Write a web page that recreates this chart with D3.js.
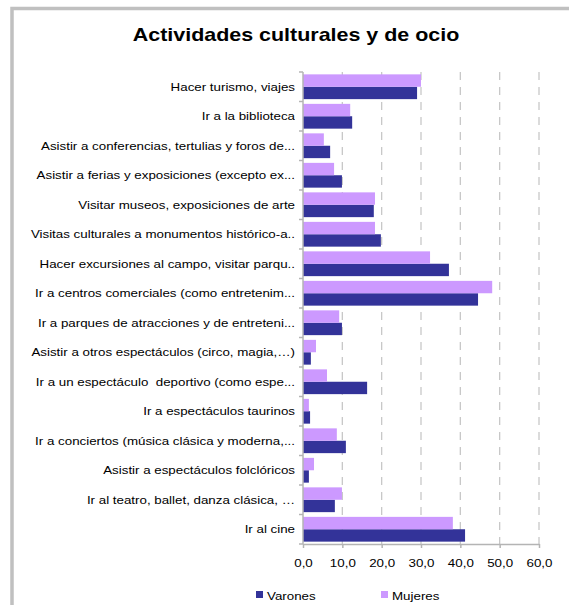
<!DOCTYPE html>
<html>
<head>
<meta charset="utf-8">
<script src="https://cdn.jsdelivr.net/npm/d3@7"></script>
<style>
  body { margin: 0; background: #fff; }
  text { font-family: "Liberation Sans", Arial, sans-serif; fill: #000; white-space: pre; }
</style>
</head>
<body>
<div id="chart"></div>
<script>
const categories = [
    "Hacer turismo, viajes",
    "Ir a la biblioteca",
    "Asistir a conferencias, tertulias y foros de...",
    "Asistir a ferias y exposiciones (excepto ex...",
    "Visitar museos, exposiciones de arte",
    "Visitas culturales a monumentos histórico-a..",
    "Hacer excursiones al campo, visitar parqu..",
    "Ir a centros comerciales (como entretenim...",
    "Ir a parques de atracciones y de entreteni...",
    "Asistir a otros espectáculos (circo, magia,…)",
    "Ir a un espectáculo  deportivo (como espe...",
    "Ir a espectáculos taurinos",
    "Ir a conciertos (música clásica y moderna,...",
    "Asistir a espectáculos folclóricos",
    "Ir al teatro, ballet, danza clásica, …",
    "Ir al cine"
];
const varones = [29.0, 12.5, 6.9, 9.9, 18.0, 19.8, 37.1, 44.5, 9.9, 2.0, 16.3, 1.8, 10.9, 1.5, 8.1, 41.2];
const mujeres = [30.0, 12.0, 5.3, 7.9, 18.3, 18.3, 32.3, 48.1, 9.2, 3.3, 6.1, 1.5, 8.6, 2.8, 9.9, 38.1];
const seriesNames = ["Varones", "Mujeres"];
const xTicks = [0, 10, 20, 30, 40, 50, 60];

const width = 569, height = 605;
const colors = { Varones: "#333399", Mujeres: "#cc99ff" };
const stretch = 1.16; // source text is rendered a bit wide

const svg = d3.select("#chart").append("svg")
    .attr("width", width)
    .attr("height", height);

function wideText(sel, x, y) {
    return sel.attr("transform", "translate(" + x + "," + y + ") scale(" + stretch + ",1)");
}

// frame (top and left edges only visible)
svg.append("path")
    .attr("d", "M12,605 V8.5 H569")
    .attr("fill", "none")
    .attr("stroke", "#c0c0c0")
    .attr("stroke-width", 3.5);

svg.append("text")
    .call(wideText, 296, 41)
    .attr("text-anchor", "middle")
    .style("font-size", "18.5px")
    .style("font-weight", "bold")
    .text("Actividades culturales y de ocio");

var x = d3.scaleLinear().domain([0, 60]).range([303, 539]);
var y = d3.scaleBand().domain(categories).range([72, 544]);
var bw = y.bandwidth();
var sub = d3.scaleBand().domain(["Mujeres", "Varones"]).range([bw * 0.08, bw * 0.92]);

// gridlines
svg.append("g").selectAll("line")
    .data(xTicks.filter(d => d > 0))
    .enter().append("line")
    .attr("x1", d => x(d)).attr("x2", d => x(d))
    .attr("y1", 72).attr("y2", 544)
    .attr("stroke", "#c8c8c8")
    .attr("stroke-width", 1.3)
    .attr("stroke-dasharray", "8,7");

var rows = categories.map((c, i) => ({ cat: c, Varones: varones[i], Mujeres: mujeres[i] }));

var g = svg.append("g");
seriesNames.forEach(function (s) {
    g.selectAll(".bar-" + s)
        .data(rows)
        .enter().append("rect")
        .attr("class", "bar-" + s)
        .attr("x", x(0))
        .attr("y", d => y(d.cat) + sub(s))
        .attr("width", d => x(d[s]) - x(0))
        .attr("height", sub.bandwidth())
        .attr("fill", colors[s]);
});

// category axis
var axisColor = "#b4b4b4";
svg.append("line")
    .attr("x1", x(0)).attr("x2", x(0))
    .attr("y1", 72).attr("y2", 544)
    .attr("stroke", axisColor).attr("stroke-width", 1.5);
var bounds = categories.map(c => y(c)).concat([y.range()[1]]);
svg.append("g").selectAll("line")
    .data(bounds)
    .enter().append("line")
    .attr("x1", x(0) - 4).attr("x2", x(0))
    .attr("y1", d => d).attr("y2", d => d)
    .attr("stroke", axisColor).attr("stroke-width", 1.5);

svg.append("clipPath").attr("id", "lblclip")
    .append("rect").attr("x", 0).attr("y", 0).attr("width", 295).attr("height", height);
svg.append("g").attr("clip-path", "url(#lblclip)")
    .selectAll("text")
    .data(categories)
    .enter().append("text")
    .each(function (d) { wideText(d3.select(this), 295, y(d) + bw / 2); })
    .attr("dy", "0.35em")
    .attr("text-anchor", "end")
    .style("font-size", "11.5px")
    .text(d => d);

// value axis
var xAxis = svg.append("g")
    .attr("transform", "translate(0,544)")
    .call(d3.axisBottom(x)
        .tickValues(xTicks)
        .tickSize(4)
        .tickSizeOuter(0)
        .tickFormat(d => d.toFixed(1).replace(".", ",")));
xAxis.select(".domain").attr("stroke", axisColor).attr("stroke-width", 1.5);
xAxis.selectAll(".tick line").attr("stroke", axisColor).attr("stroke-width", 1.5);
xAxis.selectAll(".tick text")
    .attr("y", 15)
    .attr("transform", "scale(" + stretch + ",1)")
    .style("font-size", "11.5px")
    .style("font-family", "'Liberation Sans', Arial, sans-serif")
    .attr("fill", "#000");

// legend
var legendX = { Varones: 256, Mujeres: 381 };
var leg = svg.append("g");
seriesNames.forEach(function (s) {
    leg.append("rect")
        .attr("x", legendX[s]).attr("y", 591)
        .attr("width", 7).attr("height", 7)
        .attr("fill", colors[s]);
    leg.append("text")
        .call(wideText, legendX[s] + 11, 599.5)
        .style("font-size", "11.5px")
        .text(s);
});
</script>
</body>
</html>
